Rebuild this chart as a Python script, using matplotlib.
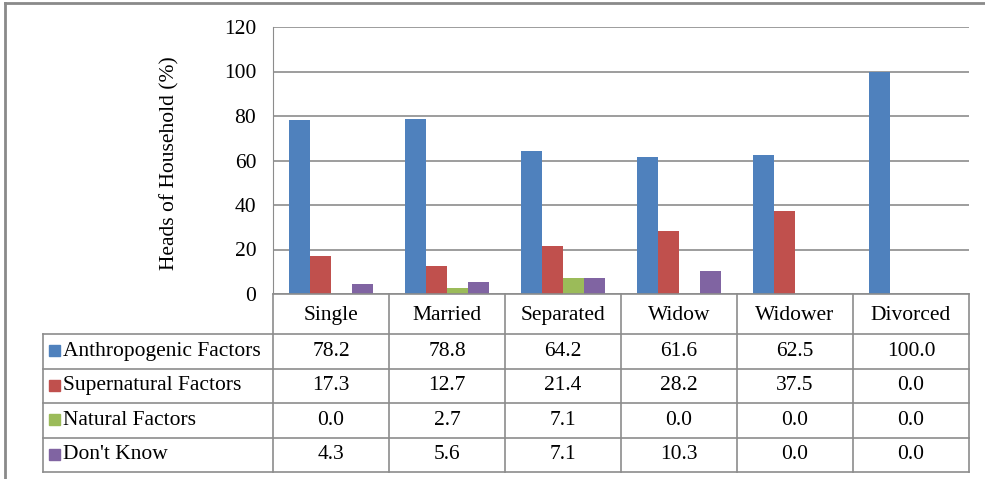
import matplotlib
matplotlib.use("Agg")
from matplotlib import pyplot as plt
from matplotlib.lines import Line2D
from matplotlib.patches import Rectangle
import numpy as np

plt.rcParams['font.family'] = ['Liberation Serif', 'DejaVu Serif']

categories = ['Single', 'Married', 'Separated', 'Widow', 'Widower', 'Divorced']
series = ['Anthropogenic Factors', 'Supernatural Factors', 'Natural Factors', "Don't Know"]
anthropogenic = [78.2, 78.8, 64.2, 61.6, 62.5, 100.0]
supernatural = [17.3, 12.7, 21.4, 28.2, 37.5, 0.0]
natural = [0.0, 2.7, 7.1, 0.0, 0.0, 0.0]
dont_know = [4.3, 5.6, 7.1, 10.3, 0.0, 0.0]
colors = ['#4F81BD', '#C0504D', '#9BBB59', '#8064A2']
values = [anthropogenic, supernatural, natural, dont_know]

W, H = 985, 479
fig = plt.figure(figsize=(W / 100, H / 100), dpi=100)
grid_col = '#8c8c8c'
fs = 15.5

# plot area in pixels
x0, x1 = 273, 969
ytop, ybot = 27, 294
ax = fig.add_axes([x0 / W, 1 - ybot / H, (x1 - x0) / W, (ybot - ytop) / H])
x = np.arange(len(categories))
bw = 0.181
for i, (vals, c) in enumerate(zip(values, colors)):
    ax.bar(x + (i - 1.5) * bw, vals, bw, color=c, zorder=3)
ax.set_xlim(-0.5, len(categories) - 0.5)
ax.set_ylim(0, 120)
ax.set_yticks(range(0, 121, 20))
ax.yaxis.grid(True, color=grid_col, lw=1.2, zorder=0)
ax.tick_params(axis='y', length=0, pad=12, labelsize=fs)
ax.set_xticks([])
for s in ['top', 'right', 'bottom']:
    ax.spines[s].set_visible(False)
ax.spines['left'].set_color(grid_col)
ax.set_ylabel('Heads of Household (%)', fontsize=fs)
ax.yaxis.set_label_coords(-0.134, 0.49)

# data table below the plot
tx0 = 43
tax = fig.add_axes([tx0 / W, 1 - 472 / H, (x1 - tx0) / W, (472 - ybot) / H])
tax.set_xlim(tx0, x1)
tax.set_ylim(472, ybot)
tax.axis('off')
colw = (x1 - x0) / len(categories)
row_edges = [ybot, 334, 368.5, 403, 437.5, 472]
lk = dict(color=grid_col, lw=1.2, clip_on=False)
tax.add_line(Line2D([x0, x1], [ybot, ybot], **lk))
for y in row_edges[1:]:
    tax.add_line(Line2D([tx0, x1], [y, y], **lk))
tax.add_line(Line2D([tx0, tx0], [row_edges[1], 472], **lk))
for j in range(len(categories) + 1):
    xx = x0 + j * colw
    tax.add_line(Line2D([xx, xx], [ybot, 472], **lk))
for j, cat in enumerate(categories):
    tax.text(x0 + (j + 0.5) * colw, (row_edges[0] + row_edges[1]) / 2 + 1, cat,
             ha='center', va='center', fontsize=fs)
for i, (name, vals, c) in enumerate(zip(series, values, colors)):
    yc = (row_edges[i + 1] + row_edges[i + 2]) / 2
    tax.add_patch(Rectangle((49, yc - 6), 11, 11, color=c, clip_on=False))
    tax.text(63, yc, name, ha='left', va='center', fontsize=fs)
    for j, v in enumerate(vals):
        tax.text(x0 + (j + 0.5) * colw, yc, f'{v:.1f}', ha='center', va='center', fontsize=fs)

# outer frame (top and left)
fig.add_artist(Line2D([5 / W, 1], [1 - 3 / H, 1 - 3 / H], color='#8a8a8a', lw=2))
fig.add_artist(Line2D([5 / W, 5 / W], [0, 1 - 3 / H], color='#8a8a8a', lw=2))

fig.savefig('out.png', dpi=100)
